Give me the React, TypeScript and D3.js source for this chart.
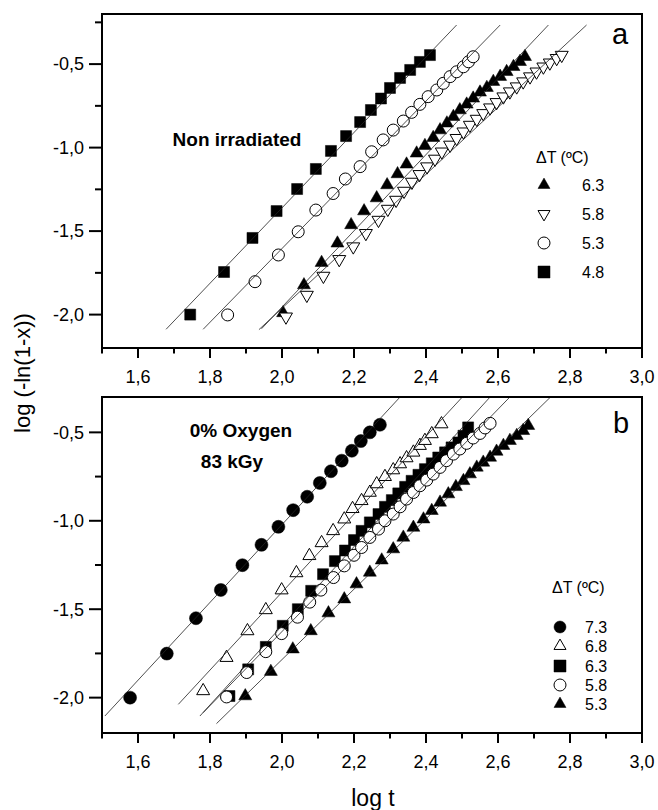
import React from 'react';
import * as d3 from 'd3';

type P = [number, number];
type Shape = 'square' | 'circle' | 'triUp' | 'triDown';

const xTickValues = [1.6, 1.8, 2.0, 2.2, 2.4, 2.6, 2.8, 3.0];
const xMinorTickValues = [1.5, 1.7, 1.9, 2.1, 2.3, 2.5, 2.7, 2.9];
const yTickValues = [-0.5, -1.0, -1.5, -2.0];
const yMinorTickValues = [-0.25, -0.75, -1.25, -1.75];

// ---------- Panel a : non irradiated ----------
const a63: P[] = [[2.003,-1.99],[2.061,-1.823],[2.110,-1.689],[2.154,-1.573],[2.192,-1.463],[2.228,-1.380],[2.263,-1.302],[2.292,-1.224],[2.321,-1.158],[2.346,-1.100],[2.374,-1.034],[2.397,-0.989],[2.420,-0.941],[2.439,-0.895],[2.458,-0.854],[2.476,-0.815],[2.494,-0.775],[2.513,-0.741],[2.531,-0.705],[2.550,-0.669],[2.569,-0.641],[2.587,-0.605],[2.606,-0.575],[2.624,-0.546],[2.643,-0.516],[2.661,-0.486],[2.675,-0.456]];
const a58: P[] = [[2.011,-2.013],[2.069,-1.883],[2.115,-1.769],[2.159,-1.669],[2.198,-1.593],[2.233,-1.513],[2.268,-1.434],[2.294,-1.368],[2.317,-1.314],[2.339,-1.260],[2.361,-1.206],[2.382,-1.160],[2.403,-1.114],[2.425,-1.068],[2.444,-1.025],[2.467,-0.984],[2.485,-0.944],[2.504,-0.905],[2.522,-0.865],[2.541,-0.829],[2.559,-0.795],[2.578,-0.761],[2.596,-0.729],[2.615,-0.695],[2.633,-0.665],[2.652,-0.635],[2.670,-0.605],[2.689,-0.575],[2.707,-0.546],[2.726,-0.516],[2.744,-0.492],[2.763,-0.465],[2.777,-0.446]];
const a53: P[] = [[1.849,-2.002],[1.925,-1.803],[1.990,-1.643],[2.045,-1.504],[2.094,-1.374],[2.142,-1.275],[2.176,-1.188],[2.217,-1.114],[2.249,-1.025],[2.281,-0.954],[2.309,-0.895],[2.337,-0.841],[2.360,-0.789],[2.383,-0.741],[2.406,-0.695],[2.430,-0.655],[2.448,-0.615],[2.467,-0.575],[2.485,-0.546],[2.504,-0.516],[2.518,-0.486],[2.531,-0.456]];
const a48: P[] = [[1.745,-2.0],[1.839,-1.745],[1.918,-1.541],[1.985,-1.380],[2.042,-1.248],[2.094,-1.128],[2.136,-1.020],[2.178,-0.931],[2.217,-0.847],[2.247,-0.775],[2.275,-0.706],[2.300,-0.643],[2.328,-0.583],[2.356,-0.535],[2.383,-0.487],[2.411,-0.446]];
const a63Fit: P[] = [[1.943,-2.085],[2.740,-0.266]];
const a58Fit: P[] = [[1.936,-2.09],[2.846,-0.266]];
const a53Fit: P[] = [[1.781,-2.088],[2.606,-0.266]];
const a48Fit: P[] = [[1.678,-2.088],[2.485,-0.266]];
const aLegendLabels = ['6.3', '5.8', '5.3', '4.8'];

// ---------- Panel b : 0% oxygen, 83 kGy ----------
const b73: P[] = [[1.578,-2.0],[1.680,-1.751],[1.761,-1.551],[1.830,-1.391],[1.890,-1.251],[1.943,-1.136],[1.990,-1.034],[2.031,-0.940],[2.070,-0.864],[2.105,-0.786],[2.136,-0.720],[2.166,-0.660],[2.194,-0.604],[2.219,-0.549],[2.244,-0.500],[2.272,-0.457]];
const b68: P[] = [[1.781,-1.962],[1.846,-1.774],[1.904,-1.623],[1.955,-1.504],[1.999,-1.392],[2.040,-1.295],[2.076,-1.198],[2.110,-1.125],[2.142,-1.057],[2.173,-0.991],[2.196,-0.932],[2.221,-0.887],[2.244,-0.840],[2.263,-0.792],[2.286,-0.751],[2.309,-0.713],[2.328,-0.679],[2.346,-0.645],[2.365,-0.613],[2.383,-0.575],[2.397,-0.547],[2.416,-0.509],[2.443,-0.453]];
const b63: P[] = [[1.854,-1.991],[1.906,-1.840],[1.955,-1.713],[2.002,-1.594],[2.044,-1.500],[2.081,-1.396],[2.114,-1.302],[2.147,-1.228],[2.175,-1.168],[2.200,-1.109],[2.221,-1.057],[2.244,-1.009],[2.268,-0.962],[2.286,-0.921],[2.305,-0.883],[2.323,-0.845],[2.342,-0.808],[2.360,-0.774],[2.379,-0.740],[2.397,-0.708],[2.416,-0.675],[2.434,-0.642],[2.453,-0.613],[2.471,-0.585],[2.490,-0.557],[2.504,-0.519],[2.517,-0.472]];
const b58: P[] = [[1.846,-1.996],[1.902,-1.858],[1.955,-1.740],[1.999,-1.638],[2.043,-1.545],[2.077,-1.460],[2.108,-1.392],[2.143,-1.321],[2.173,-1.255],[2.200,-1.195],[2.221,-1.151],[2.244,-1.094],[2.268,-1.047],[2.286,-1.000],[2.309,-0.962],[2.328,-0.921],[2.346,-0.877],[2.365,-0.840],[2.383,-0.802],[2.402,-0.770],[2.420,-0.736],[2.439,-0.698],[2.457,-0.660],[2.476,-0.623],[2.494,-0.594],[2.513,-0.562],[2.531,-0.532],[2.550,-0.506],[2.564,-0.475],[2.578,-0.449]];
const b53: P[] = [[1.898,-1.991],[1.969,-1.853],[2.030,-1.726],[2.080,-1.623],[2.129,-1.522],[2.173,-1.443],[2.207,-1.358],[2.244,-1.292],[2.277,-1.223],[2.309,-1.160],[2.337,-1.094],[2.365,-1.038],[2.393,-0.991],[2.416,-0.943],[2.439,-0.896],[2.462,-0.849],[2.483,-0.808],[2.504,-0.774],[2.522,-0.736],[2.541,-0.698],[2.559,-0.670],[2.578,-0.642],[2.596,-0.608],[2.615,-0.575],[2.633,-0.547],[2.652,-0.519],[2.670,-0.491],[2.684,-0.462]];
const b73Fit: P[] = [[1.508,-2.104],[2.328,-0.3]];
const b68Fit: P[] = [[1.712,-2.038],[2.501,-0.3]];
const b63Fit: P[] = [[1.772,-2.104],[2.578,-0.3]];
const b58Fit: P[] = [[1.781,-2.085],[2.633,-0.3]];
const b53Fit: P[] = [[1.818,-2.147],[2.746,-0.3]];
const bLegendLabels = ['7.3', '6.8', '6.3', '5.8', '5.3'];

const FONT = "'Liberation Sans', Arial, Helvetica, sans-serif";
const LEFT = 102, RIGHT = 642;

interface SeriesDef { data: P[]; shape: Shape; filled: boolean; }

function symPath(shape: Shape, dim: number): string {
  let area: number;
  let type: d3.SymbolType;
  if (shape === 'square') { area = dim * dim; type = d3.symbolSquare; }
  else if (shape === 'circle') { area = Math.PI * dim * dim / 4; type = d3.symbolCircle; }
  else { area = Math.sqrt(3) / 4 * dim * dim; type = d3.symbolTriangle; }
  return d3.symbol(type, area)() as string;
}

function Marker({ shape, filled, x, y, dim }: { shape: Shape; filled: boolean; x: number; y: number; dim: number }) {
  const rot = shape === 'triDown' ? ' rotate(180)' : '';
  return (
    <path d={symPath(shape, dim)} transform={`translate(${x},${y})${rot}`}
      fill={filled ? '#000' : '#fff'} stroke="#000" strokeWidth={filled ? 0.5 : 1} />
  );
}

function dims(shape: Shape, filled: boolean): number {
  if (shape === 'square') return 11;
  if (shape === 'circle') return filled ? 13 : 12;
  return 13;
}

interface PanelProps {
  top: number; bottom: number; yDomain: [number, number];
  series: SeriesDef[]; fits: P[][];
  legendTitleY: number; legendX: number; legendLabelX: number; legendRows: number[];
  legendSeries: SeriesDef[]; legendLabels: string[]; legendFont: number; legendDim: number;
  letter: string; letterX: number; letterY: number;
  notes: { text: string; x: number; y: number }[];
}

function fmt(v: number): string { return d3.format('.1f')(v).replace('.', ',').replace('−', '-'); }

function Panel(p: PanelProps) {
  const x = d3.scaleLinear().domain([1.5, 3.0]).range([LEFT, RIGHT]);
  const y = d3.scaleLinear().domain(p.yDomain).range([p.bottom, p.top]);
  const line = d3.line<P>().x(d => x(d[0])).y(d => y(d[1]));
  const yMinor = yMinorTickValues.filter(v => v >= p.yDomain[0] && v <= p.yDomain[1]);
  return (
    <g>
      {p.series.map((s, i) => (
        <g key={i}>
          {s.data.map((d, j) => <Marker key={j} shape={s.shape} filled={s.filled} x={x(d[0])} y={y(d[1])} dim={dims(s.shape, s.filled)} />)}
        </g>
      ))}
      {p.fits.map((f, i) => <path key={i} d={line(f) as string} fill="none" stroke="#222" strokeWidth={0.8} />)}
      <rect x={LEFT} y={p.top} width={RIGHT - LEFT} height={p.bottom - p.top} fill="none" stroke="#000" strokeWidth={2} />
      {xTickValues.map(v => <line key={v} x1={x(v)} x2={x(v)} y1={p.bottom} y2={p.bottom + 10} stroke="#000" strokeWidth={2} />)}
      {xMinorTickValues.map(v => <line key={v} x1={x(v)} x2={x(v)} y1={p.bottom} y2={p.bottom + 5.5} stroke="#000" strokeWidth={2} />)}
      {xTickValues.map(v => <text key={v} x={x(v)} y={p.bottom + 35} textAnchor="middle" fontFamily={FONT} fontSize={18}>{fmt(v)}</text>)}
      {yTickValues.map(v => <line key={v} x1={LEFT - 13} x2={LEFT} y1={y(v)} y2={y(v)} stroke="#000" strokeWidth={2} />)}
      {yMinor.map(v => <line key={v} x1={LEFT - 7} x2={LEFT} y1={y(v)} y2={y(v)} stroke="#000" strokeWidth={2} />)}
      {yTickValues.map(v => <text key={v} x={84} y={y(v)} dy="0.35em" textAnchor="end" fontFamily={FONT} fontSize={18}>{fmt(v)}</text>)}
      <text x={p.letterX} y={p.letterY} textAnchor="middle" fontFamily={FONT} fontSize={29}>{p.letter}</text>
      {p.notes.map((n, i) => <text key={i} x={n.x} y={n.y} textAnchor="middle" fontFamily={FONT} fontSize={19} fontWeight="bold">{n.text}</text>)}
      <text x={p.legendX - 8} y={p.legendTitleY} dy="0.35em" fontFamily={FONT} fontSize={p.legendFont}>ΔT (ºC)</text>
      {p.legendSeries.map((s, i) => (
        <g key={i}>
          <Marker shape={s.shape} filled={s.filled} x={p.legendX} y={p.legendRows[i]} dim={p.legendDim} />
          <text x={p.legendLabelX} y={p.legendRows[i]} dy="0.35em" fontFamily={FONT} fontSize={p.legendFont}>{p.legendLabels[i]}</text>
        </g>
      ))}
    </g>
  );
}

export default function App() {
  const aSeries: SeriesDef[] = [
    { data: a48, shape: 'square', filled: true },
    { data: a53, shape: 'circle', filled: false },
    { data: a63, shape: 'triUp', filled: true },
    { data: a58, shape: 'triDown', filled: false },
  ];
  const aLegend: SeriesDef[] = [
    { data: a63, shape: 'triUp', filled: true },
    { data: a58, shape: 'triDown', filled: false },
    { data: a53, shape: 'circle', filled: false },
    { data: a48, shape: 'square', filled: true },
  ];
  const bSeries: SeriesDef[] = [
    { data: b73, shape: 'circle', filled: true },
    { data: b68, shape: 'triUp', filled: false },
    { data: b63, shape: 'square', filled: true },
    { data: b58, shape: 'circle', filled: false },
    { data: b53, shape: 'triUp', filled: true },
  ];
  return (
    <svg width={658} height={810} style={{ position: 'absolute', left: 0, top: 0, background: '#fff' }}>
      <rect x={0} y={0} width={658} height={810} fill="#fff" />
      <Panel top={14} bottom={348} yDomain={[-2.2, -0.2]} series={aSeries} fits={[a48Fit, a53Fit, a63Fit, a58Fit]}
        legendTitleY={157} legendX={544} legendLabelX={582} legendRows={[185, 214, 243, 272]}
        legendSeries={aLegend} legendLabels={aLegendLabels} legendFont={16} legendDim={12}
        letter="a" letterX={620} letterY={44}
        notes={[{ text: 'Non irradiated', x: 237, y: 146 }]} />
      <Panel top={397} bottom={733} yDomain={[-2.2, -0.3]} series={bSeries} fits={[b73Fit, b68Fit, b63Fit, b58Fit, b53Fit]}
        legendTitleY={587} legendX={560} legendLabelX={585} legendRows={[627, 646, 666, 685, 704]}
        legendSeries={bSeries} legendLabels={bLegendLabels} legendFont={16} legendDim={12}
        letter="b" letterX={621} letterY={433}
        notes={[{ text: '0% Oxygen', x: 241, y: 437 }, { text: '83 kGy', x: 232, y: 468 }]} />
      <text x={373} y={806} textAnchor="middle" fontFamily={FONT} fontSize={23}>log t</text>
      <text transform="translate(30,373) rotate(-90)" textAnchor="middle" fontFamily={FONT} fontSize={22}>log (-ln(1-x))</text>
    </svg>
  );
}
